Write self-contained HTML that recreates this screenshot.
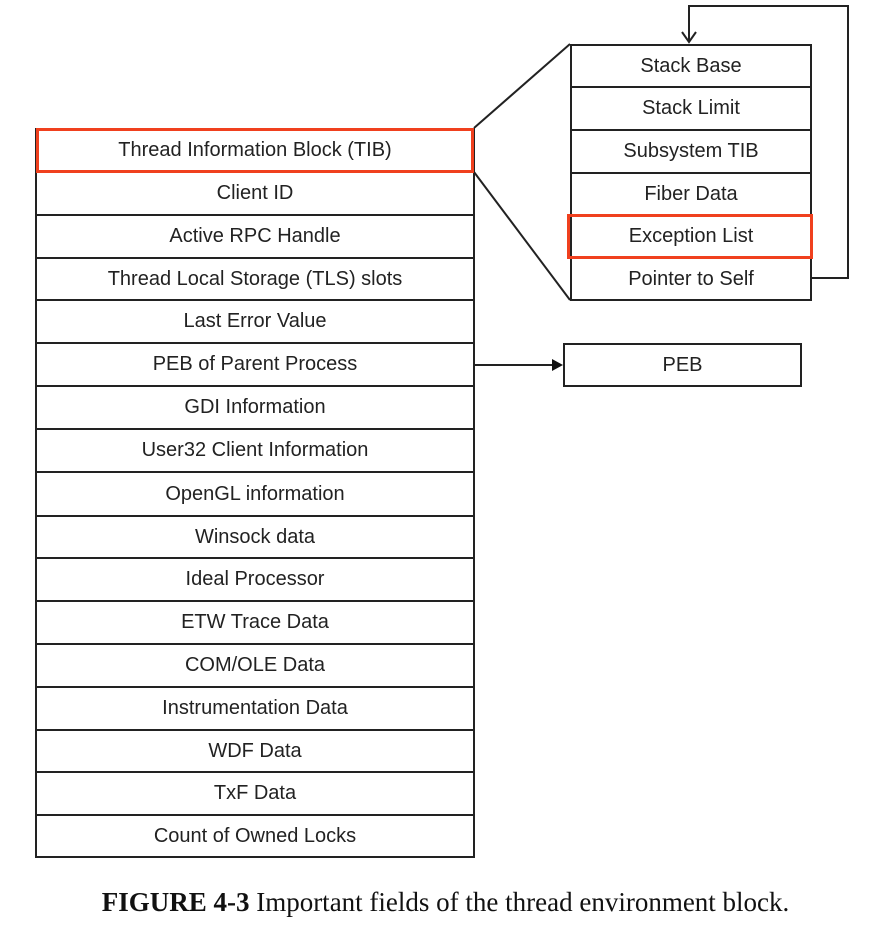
<!DOCTYPE html>
<html><head><style>
body{margin:0;background:#fff;width:891px;height:929px;position:relative;overflow:hidden;font-family:"Liberation Sans",sans-serif;}
.r{position:absolute;box-sizing:border-box;border:2px solid #222;display:flex;align-items:center;justify-content:center;font-size:20px;color:#222;background:#fff;}
.red{position:absolute;box-sizing:border-box;border:3px solid #f0401e;}
.cap{position:absolute;left:0;width:891px;top:885px;text-align:center;font-family:"Liberation Serif",serif;font-size:27px;line-height:34px;color:#111;white-space:nowrap;}
</style></head><body>
<svg width="891" height="929" style="position:absolute;left:0;top:0">
<g stroke="#222" stroke-width="2" fill="none">
<line x1="474" y1="128" x2="570" y2="44"/>
<line x1="474" y1="172" x2="570" y2="300"/>
<polyline points="811,278 848,278 848,6 689,6 689,42"/>
<polyline points="682,32 689,42 696,32"/>
<line x1="474" y1="365" x2="555" y2="365"/>
</g>
<polygon points="563,365 552,359 552,371" fill="#111"/>
</svg>
<div class="r" style="left:570px;top:44px;width:242px;height:44px">Stack Base</div>
<div class="r" style="left:570px;top:86px;width:242px;height:45px">Stack Limit</div>
<div class="r" style="left:570px;top:129px;width:242px;height:45px">Subsystem TIB</div>
<div class="r" style="left:570px;top:172px;width:242px;height:44px">Fiber Data</div>
<div class="r" style="left:570px;top:214px;width:242px;height:45px">Exception List</div>
<div class="r" style="left:570px;top:257px;width:242px;height:44px">Pointer to Self</div>
<div class="red" style="left:567px;top:214px;width:246px;height:45px"></div>
<div class="r" style="left:563px;top:343px;width:239px;height:44px">PEB</div>
<div class="r" style="left:35px;top:128px;width:440px;height:45px">Thread Information Block (TIB)</div>
<div class="r" style="left:35px;top:171px;width:440px;height:45px">Client ID</div>
<div class="r" style="left:35px;top:214px;width:440px;height:45px">Active RPC Handle</div>
<div class="r" style="left:35px;top:257px;width:440px;height:44px">Thread Local Storage (TLS) slots</div>
<div class="r" style="left:35px;top:299px;width:440px;height:45px">Last Error Value</div>
<div class="r" style="left:35px;top:342px;width:440px;height:45px">PEB of Parent Process</div>
<div class="r" style="left:35px;top:385px;width:440px;height:45px">GDI Information</div>
<div class="r" style="left:35px;top:428px;width:440px;height:45px">User32 Client Information</div>
<div class="r" style="left:35px;top:471px;width:440px;height:46px">OpenGL information</div>
<div class="r" style="left:35px;top:515px;width:440px;height:44px">Winsock data</div>
<div class="r" style="left:35px;top:557px;width:440px;height:45px">Ideal Processor</div>
<div class="r" style="left:35px;top:600px;width:440px;height:45px">ETW Trace Data</div>
<div class="r" style="left:35px;top:643px;width:440px;height:45px">COM/OLE Data</div>
<div class="r" style="left:35px;top:686px;width:440px;height:45px">Instrumentation Data</div>
<div class="r" style="left:35px;top:729px;width:440px;height:44px">WDF Data</div>
<div class="r" style="left:35px;top:771px;width:440px;height:45px">TxF Data</div>
<div class="r" style="left:35px;top:814px;width:440px;height:44px">Count of Owned Locks</div>
<div class="red" style="left:36px;top:128px;width:438px;height:45px"></div>
<div class="cap"><b>FIGURE 4-3</b> Important fields of the thread environment block.</div>
</body></html>
